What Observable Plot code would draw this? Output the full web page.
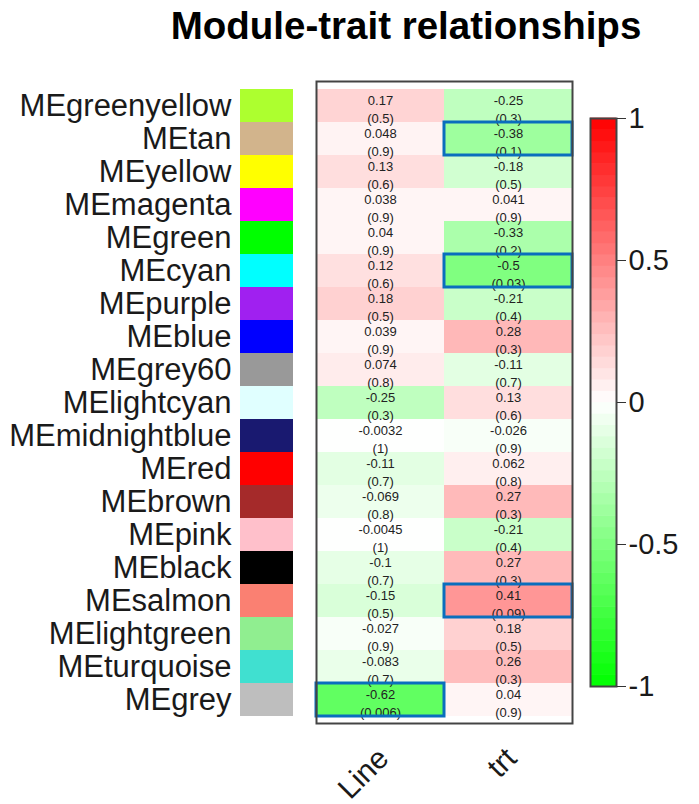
<!DOCTYPE html>
<html>
<head>
<meta charset="utf-8">
<script src="https://cdn.jsdelivr.net/npm/d3@7"></script>
<script src="https://cdn.jsdelivr.net/npm/@observablehq/plot@0.6"></script>
<style>
  html, body { margin: 0; padding: 0; background: white; }
  #wrap { position: relative; width: 699px; height: 804px; font-family: "Liberation Sans", Arial, sans-serif; }
  #wrap svg { position: absolute; background: transparent !important; overflow: visible; }
  #title { position: absolute; left: 0; top: 7px; width: 699px; padding-left: 113px; box-sizing: border-box; text-align: center;
           font: bold 38.5px/38px "Liberation Sans", Arial, sans-serif; color: #000; white-space: nowrap; }
</style>
</head>
<body>
<div id="wrap"><div id="title">Module-trait relationships</div></div>
<script>
const modules = ["MEgreenyellow","MEtan","MEyellow","MEmagenta","MEgreen","MEcyan","MEpurple","MEblue","MEgrey60","MElightcyan","MEmidnightblue","MEred","MEbrown","MEpink","MEblack","MEsalmon","MElightgreen","MEturquoise","MEgrey"];
const moduleColors = ["#ADFF2F","#D2B48C","#FFFF00","#FF00FF","#00FF00","#00FFFF","#A020F0","#0000FF","#999999","#E0FFFF","#191970","#FF0000","#A52A2A","#FFC0CB","#000000","#FA8072","#90EE90","#40E0D0","#BEBEBE"];
const traits = ["Line","trt"];
const lineCor = [0.17,0.048,0.13,0.038,0.04,0.12,0.18,0.039,0.074,-0.25,-0.0032,-0.11,-0.069,-0.0045,-0.1,-0.15,-0.027,-0.083,-0.62];
const lineP   = [0.5,0.9,0.6,0.9,0.9,0.6,0.5,0.9,0.8,0.3,1,0.7,0.8,1,0.7,0.5,0.9,0.7,0.006];
const trtCor  = [-0.25,-0.38,-0.18,0.041,-0.33,-0.5,-0.21,0.28,-0.11,0.13,-0.026,0.062,0.27,-0.21,0.27,0.41,0.18,0.26,0.04];
const trtP    = [0.3,0.1,0.5,0.9,0.2,0.03,0.4,0.3,0.7,0.6,0.9,0.8,0.3,0.4,0.3,0.09,0.5,0.3,0.9];
const highlighted = [["MEtan","trt"],["MEcyan","trt"],["MEsalmon","trt"],["MEgrey","Line"]];
const legendTicks = [-1,-0.5,0,0.5,1];

const cells = [];
modules.forEach((m, i) => {
  cells.push({module: m, trait: "Line", cor: lineCor[i], p: lineP[i]});
  cells.push({module: m, trait: "trt", cor: trtCor[i], p: trtP[i]});
});
const strip = modules.map((m, i) => ({module: m, color: moduleColors[i]}));
const hl = highlighted.map(([module, trait]) => ({module, trait}));
const legendSteps = d3.range(50).map(i => -1 + (i + 0.5) * 0.04);

const colorScale = {type: "linear", domain: [-1, 0, 1], range: ["#00ff00", "#ffffff", "#ff0000"], interpolate: "rgb"};
const font = {fontFamily: "'Liberation Sans', Arial, sans-serif", background: "transparent", overflow: "visible"};
const wrap = document.getElementById("wrap");

// Module colour strip with labels
const plotA = Plot.plot({
  width: 300, height: 804,
  marginLeft: 240, marginRight: 7, marginTop: 81, marginBottom: 81,
  style: {...font, color: "#1a1a1a"},
  x: {axis: null},
  y: {type: "band", domain: modules, padding: 0, label: null},
  color: {type: "identity"},
  marks: [
    Plot.cell(strip, {y: "module", fill: "color", inset: 0}),
    Plot.axisY({fontSize: 31, tickSize: 0, tickPadding: 9, label: null})
  ]
});
plotA.style.left = "0px"; plotA.style.top = "0px";
wrap.appendChild(plotA);

// Heatmap
const plotB = Plot.plot({
  width: 699, height: 804,
  marginLeft: 316, marginRight: 127, marginTop: 81, marginBottom: 81,
  style: {...font, color: "#1a1a1a"},
  x: {type: "band", domain: traits, padding: 0, label: null},
  y: {type: "band", domain: modules, padding: 0, axis: null},
  color: colorScale,
  marks: [
    Plot.cell(cells, {x: "trait", y: "module", fill: "cor", inset: 0}),
    Plot.text(cells, {x: "trait", y: "module", text: d => `${d.cor}\n(${d.p})`, fontSize: 13, lineHeight: 1.45, dy: 2, fill: "#222"}),
    Plot.cell(hl, {x: "trait", y: "module", fill: "none", stroke: "#0a6ebd", strokeWidth: 3, inset: 0}),
    Plot.frame({stroke: "#444", strokeWidth: 2}),
    Plot.axisX({tickRotate: -45, fontSize: 30, tickSize: 0, tickPadding: 30, dx: 3, label: null})
  ]
});
plotB.style.left = "0px"; plotB.style.top = "0px";
wrap.appendChild(plotB);

// Vertical colour legend
const plotC = Plot.plot({
  width: 139, height: 804,
  marginLeft: 30, marginRight: 83, marginTop: 118, marginBottom: 118,
  style: {...font, color: "#1a1a1a"},
  x: {domain: [0, 1], axis: null},
  y: {domain: [-1, 1], axis: null},
  color: colorScale,
  marks: [
    Plot.rect(legendSteps, {x1: 0, x2: 1, y1: d => d - 0.021, y2: d => d + 0.021, fill: d => d}),
    Plot.frame({stroke: "#444", strokeWidth: 2}),
    Plot.axisY({anchor: "right", ticks: legendTicks, tickFormat: d => String(d), fontSize: 29, tickSize: 9, tickPadding: 3, stroke: "#333", label: null})
  ]
});
plotC.style.left = "560px"; plotC.style.top = "0px";
wrap.appendChild(plotC);
</script>
</body>
</html>
